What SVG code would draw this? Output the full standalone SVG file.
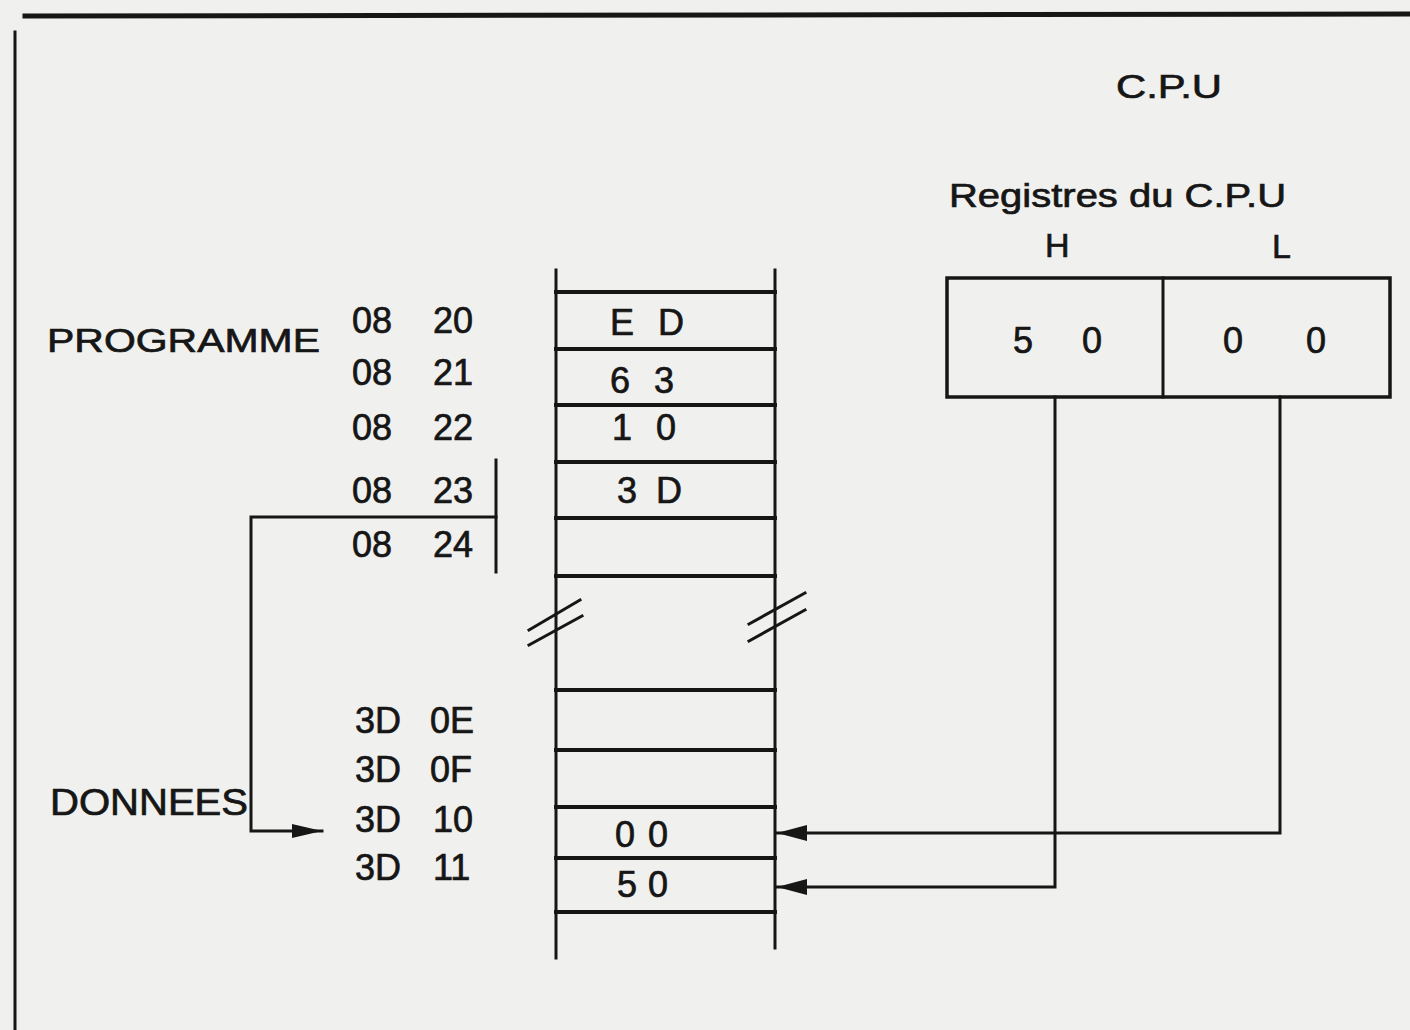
<svg xmlns="http://www.w3.org/2000/svg" width="1410" height="1030" viewBox="0 0 1410 1030">
<defs>
<style>
.t{font-family:"Liberation Sans","DejaVu Sans",Arial,sans-serif;fill:#161616;stroke:#161616;stroke-width:0.7;}
.a{font-size:36px;}
.ln{stroke:#161616;fill:none;stroke-linecap:square;}
.cell{stroke-width:4;}
.v{stroke-width:3;}
.c{stroke-width:3;}
</style>
<marker id="ah" viewBox="0 0 30 16" refX="30" refY="8" markerWidth="30" markerHeight="16" markerUnits="userSpaceOnUse" orient="auto">
<path d="M0,0 L30,8 L0,16 Z" fill="#161616"/>
</marker>
<marker id="ah2" viewBox="0 0 30 14" refX="30" refY="7" markerWidth="30" markerHeight="14" markerUnits="userSpaceOnUse" orient="auto">
<path d="M0,0 L30,7 L0,14 Z" fill="#161616"/>
</marker>
</defs>
<rect width="1410" height="1030" fill="#f0f0ee"/>

<g id="frame">
<line class="ln" x1="25" y1="16" x2="1410" y2="14" stroke-width="5"/>
<line class="ln" x1="15" y1="32" x2="15" y2="1030" stroke-width="3"/>
</g>

<g id="cpu-title">
<text class="t" x="1116" y="98" font-size="34" textLength="106" lengthAdjust="spacingAndGlyphs">C.P.U</text>
</g>

<g id="registers">
<text class="t" x="949" y="207" font-size="34" textLength="337" lengthAdjust="spacingAndGlyphs">Registres du C.P.U</text>
<text class="t" x="1045" y="257" font-size="34">H</text>
<text class="t" x="1272" y="258" font-size="34">L</text>
<rect class="ln" x="947" y="278" width="443" height="119" stroke-width="3.5"/>
<line class="ln" x1="1163" y1="278" x2="1163" y2="397" stroke-width="3"/>
<text class="t a" y="353"><tspan x="1013">5</tspan> <tspan x="1082">0</tspan></text>
<text class="t a" y="353"><tspan x="1223">0</tspan> <tspan x="1306">0</tspan></text>
</g>

<g id="memory">
<line class="ln v" x1="556" y1="270" x2="556" y2="958"/>
<line class="ln v" x1="775" y1="270" x2="775" y2="948"/>
<g class="ln cell">
<line x1="556" y1="292" x2="775" y2="292"/>
<line x1="556" y1="349" x2="775" y2="349"/>
<line x1="556" y1="405" x2="775" y2="405"/>
<line x1="556" y1="462" x2="775" y2="462"/>
<line x1="556" y1="518" x2="775" y2="518"/>
<line x1="556" y1="576" x2="775" y2="576"/>
<line x1="556" y1="690" x2="775" y2="690"/>
<line x1="556" y1="750" x2="775" y2="750"/>
<line x1="556" y1="807" x2="775" y2="807"/>
<line x1="556" y1="858" x2="775" y2="858"/>
<line x1="556" y1="912" x2="775" y2="912"/>
</g>
<g class="ln" stroke-width="3">
<line x1="529" y1="630" x2="580" y2="600"/>
<line x1="529" y1="645" x2="582" y2="616"/>
<line x1="749" y1="624" x2="805" y2="593"/>
<line x1="749" y1="641" x2="805" y2="610"/>
</g>
<text class="t a" y="335"><tspan x="610">E</tspan> <tspan x="658">D</tspan></text>
<text class="t a" y="393"><tspan x="610">6</tspan> <tspan x="654">3</tspan></text>
<text class="t a" y="440"><tspan x="612">1</tspan> <tspan x="656">0</tspan></text>
<text class="t a" y="503"><tspan x="617">3</tspan> <tspan x="656">D</tspan></text>
<text class="t a" y="847"><tspan x="615">0</tspan> <tspan x="648">0</tspan></text>
<text class="t a" y="897"><tspan x="617">5</tspan> <tspan x="648">0</tspan></text>
</g>

<g id="addresses">
<text class="t" x="47" y="352" font-size="34" textLength="273" lengthAdjust="spacingAndGlyphs">PROGRAMME</text>
<text class="t a" y="333"><tspan x="352">08</tspan> <tspan x="433">20</tspan></text>
<text class="t a" y="385"><tspan x="352">08</tspan> <tspan x="433">21</tspan></text>
<text class="t a" y="440"><tspan x="352">08</tspan> <tspan x="433">22</tspan></text>
<text class="t a" y="503"><tspan x="352">08</tspan> <tspan x="433">23</tspan></text>
<text class="t a" y="557"><tspan x="352">08</tspan> <tspan x="433">24</tspan></text>
<text class="t" x="50" y="815" font-size="36" textLength="198" lengthAdjust="spacingAndGlyphs">DONNEES</text>
<text class="t a" y="733"><tspan x="355">3D</tspan> <tspan x="430">0E</tspan></text>
<text class="t a" y="782"><tspan x="355">3D</tspan> <tspan x="430">0F</tspan></text>
<text class="t a" y="832"><tspan x="355">3D</tspan> <tspan x="433">10</tspan></text>
<text class="t a" y="880"><tspan x="355">3D</tspan> <tspan x="433">11</tspan></text>
</g>

<g id="connectors">
<line class="ln c" x1="496" y1="460" x2="496" y2="572"/>
<polyline class="ln c" points="496,517 251,517 251,831 322,831" marker-end="url(#ah2)"/>
<polyline class="ln c" points="1280,397 1280,833 777,833" marker-end="url(#ah)"/>
<polyline class="ln c" points="1055,397 1055,887 777,887" marker-end="url(#ah)"/>
</g>
</svg>
